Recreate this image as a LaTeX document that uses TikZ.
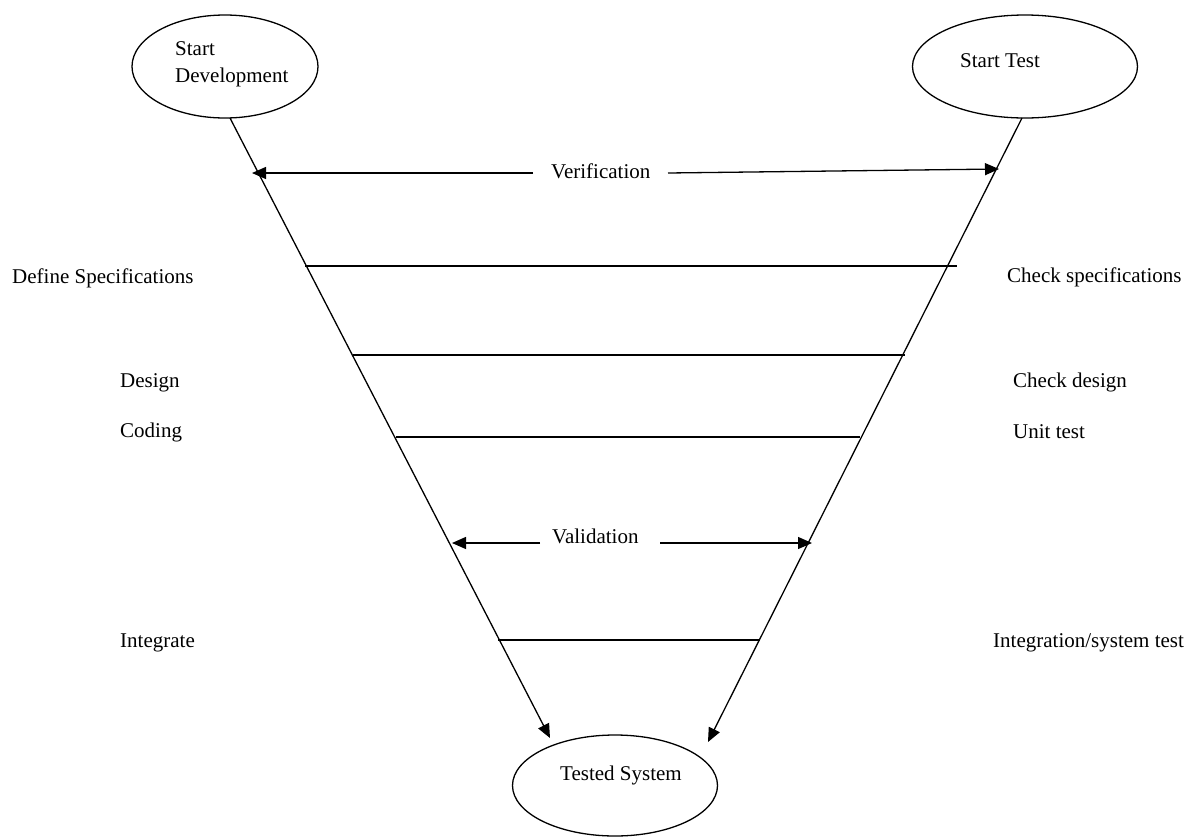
\documentclass[tikz,border=0pt]{standalone}
\usepackage{fontspec}
\setmainfont{Liberation Serif}
\usetikzlibrary{arrows.meta,shapes.geometric}
\begin{document}
\begin{tikzpicture}[x=1pt,y=-1pt,
  every node/.style={font=\fontsize{21}{25}\selectfont, inner sep=0pt},
  phase/.style={draw, ellipse, line width=1.3pt, minimum width=#1, minimum height=103pt},
  label/.style={anchor=base west},
  rung/.style={line width=1.3pt},
  tip/.style={-{Triangle[length=14pt,width=12pt]}, line width=1.3pt}]
\useasboundingbox (0,0) rectangle (1187,839);

% the three milestones
\node[phase=186pt] (sd) at (225,66.5) {};
\node[phase=225pt] (st) at (1025,66.5) {};
\node[phase=205pt, minimum height=101pt] (ts) at (615,785.5) {};

\node[label] (sdtxt) at (175,55) {Start};
\node[label] (sdtxt2) at (175,82) {Development};
\node[label] (sttxt) at (960,67) {Start Test};
\node[label] (tstxt) at (560,780) {Tested System};

% end points of the two arms of the V
\coordinate (la) at (230,118);
\coordinate (lb) at (550,738);
\coordinate (ra) at (1022,118);
\coordinate (rb) at (708,742);

\draw[tip] (la) -- (lb);
\draw[tip] (ra) -- (rb);

% rungs between the development and test sides
\coordinate (r1a) at (305,266);  \coordinate (r1b) at (957,266);
\coordinate (r2a) at (353,355);  \coordinate (r2b) at (905,355);
\coordinate (r3a) at (396,437);  \coordinate (r3b) at (860,437);
\coordinate (r4a) at (498,640);  \coordinate (r4b) at (760,640);
\draw[rung] (r1a) -- (r1b);
\draw[rung] (r2a) -- (r2b);
\draw[rung] (r3a) -- (r3b);
\draw[rung] (r4a) -- (r4b);

% verification
\node[label] (ver) at (551,178) {Verification};
\coordinate (v1) at (533,173); \coordinate (v1t) at (252,173);
\coordinate (v2) at (668,173); \coordinate (v2t) at (999,169);
\draw[tip] (v1) -- (v1t);
\draw[tip] (v2) -- (v2t);

% validation
\node[label] (val) at (552,543) {Validation};
\coordinate (w1) at (540,543); \coordinate (w1t) at (452,543);
\coordinate (w2) at (660,543); \coordinate (w2t) at (812,543);
\draw[tip] (w1) -- (w1t);
\draw[tip] (w2) -- (w2t);

% development steps
\node[label] (def) at (12,283) {Define Specifications};
\node[label] (des) at (120,387) {Design};
\node[label] (cod) at (120,437) {Coding};
\node[label] (int) at (120,647) {Integrate};

% test steps
\node[label] (chs) at (1007,282) {Check specifications};
\node[label] (chd) at (1013,387) {Check design};
\node[label] (unt) at (1013,438) {Unit test};
\node[label] (ist) at (993,647) {Integration/system test};
\end{tikzpicture}
\end{document}
